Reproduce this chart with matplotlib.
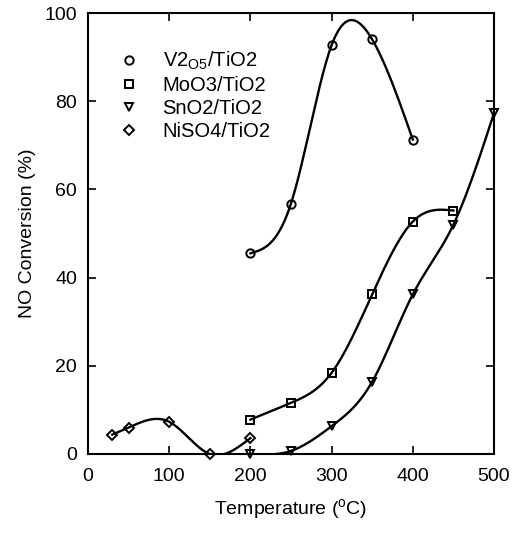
import numpy as np
import matplotlib
matplotlib.use("Agg")
import matplotlib.pyplot as plt

plt.rcParams['font.family'] = ['Liberation Sans', 'DejaVu Sans']
plt.rcParams['mathtext.fontset'] = 'custom'
plt.rcParams['mathtext.rm'] = 'Liberation Sans'

v_x = [200, 250, 300, 350, 400]
v_y = [45.5, 56.8, 92.7, 94.0, 71.3]
mo_x = [200, 250, 300, 350, 400, 450]
mo_y = [7.8, 11.6, 18.4, 36.2, 52.7, 55.2]
sn_x = [200, 250, 300, 350, 400, 450, 500]
sn_y = [0.0, 0.7, 6.3, 16.4, 36.2, 52.0, 77.3]
ni_x = [30, 50, 100, 150, 200]
ni_y = [4.4, 6.0, 7.3, 0.0, 3.6]

labels = [r"V2$_{\mathregular{O5}}$/TiO2", "MoO3/TiO2", "SnO2/TiO2", "NiSO4/TiO2"]
series = [(v_x, v_y, 'o', 6.0), (mo_x, mo_y, 's', 5.2), (sn_x, sn_y, 'v', 6.0), (ni_x, ni_y, 'D', 5.0)]


def natural_spline(x, y, n=300):
    x = np.asarray(x, float); y = np.asarray(y, float)
    k = len(x)
    h = np.diff(x)
    A = np.zeros((k, k)); b = np.zeros(k)
    A[0, 0] = 1; A[-1, -1] = 1
    for i in range(1, k - 1):
        A[i, i - 1] = h[i - 1]
        A[i, i] = 2 * (h[i - 1] + h[i])
        A[i, i + 1] = h[i]
        b[i] = 3 * ((y[i + 1] - y[i]) / h[i] - (y[i] - y[i - 1]) / h[i - 1])
    c = np.linalg.solve(A, b)
    xs = np.linspace(x[0], x[-1], n)
    ys = np.empty_like(xs)
    for j, xv in enumerate(xs):
        i = min(np.searchsorted(x, xv, side='right') - 1, k - 2)
        i = max(i, 0)
        dx = xv - x[i]
        bi = (y[i + 1] - y[i]) / h[i] - h[i] * (2 * c[i] + c[i + 1]) / 3
        di = (c[i + 1] - c[i]) / (3 * h[i])
        ys[j] = y[i] + bi * dx + c[i] * dx ** 2 + di * dx ** 3
    return xs, ys


fig = plt.figure(figsize=(5.18, 5.33), dpi=100)
ax = fig.add_axes([88 / 518, 1 - 454 / 533, (494 - 88) / 518, (454 - 13) / 533])

handles = []
for (x, y, m, ms), lab in zip(series, labels):
    xs, ys = natural_spline(x, y)
    ax.plot(xs, ys, color='black', lw=1.7, clip_on=True)
    h, = ax.plot(x, y, linestyle='none', marker=m, ms=ms, mfc='none', mec='black',
                 mew=1.4, clip_on=False, zorder=3, label=lab)
    handles.append(h)

ax.set_xlim(0, 500)
ax.set_ylim(0, 100)
ax.set_xticks([0, 100, 200, 300, 400, 500])
ax.set_yticks([0, 20, 40, 60, 80, 100])
ax.tick_params(direction='in', top=True, right=True, length=6, width=1.2, labelsize=14)
ax.tick_params(axis='y', pad=8)
ax.tick_params(axis='x', pad=10)
for s in ax.spines.values():
    s.set_linewidth(1.5)

ax.set_xlabel(r"Temperature ($^{\mathregular{o}}$C)", fontsize=14, labelpad=9)
ax.set_ylabel("NO Conversion (%)", fontsize=14, labelpad=6)

leg = ax.legend(handles=handles, loc='upper left', bbox_to_anchor=(0.062, 0.935), frameon=False,
                fontsize=14.5, handlelength=0.8, handletextpad=1.25, labelspacing=0.2,
                borderaxespad=0.0)

fig.savefig("out.png", dpi=100)
